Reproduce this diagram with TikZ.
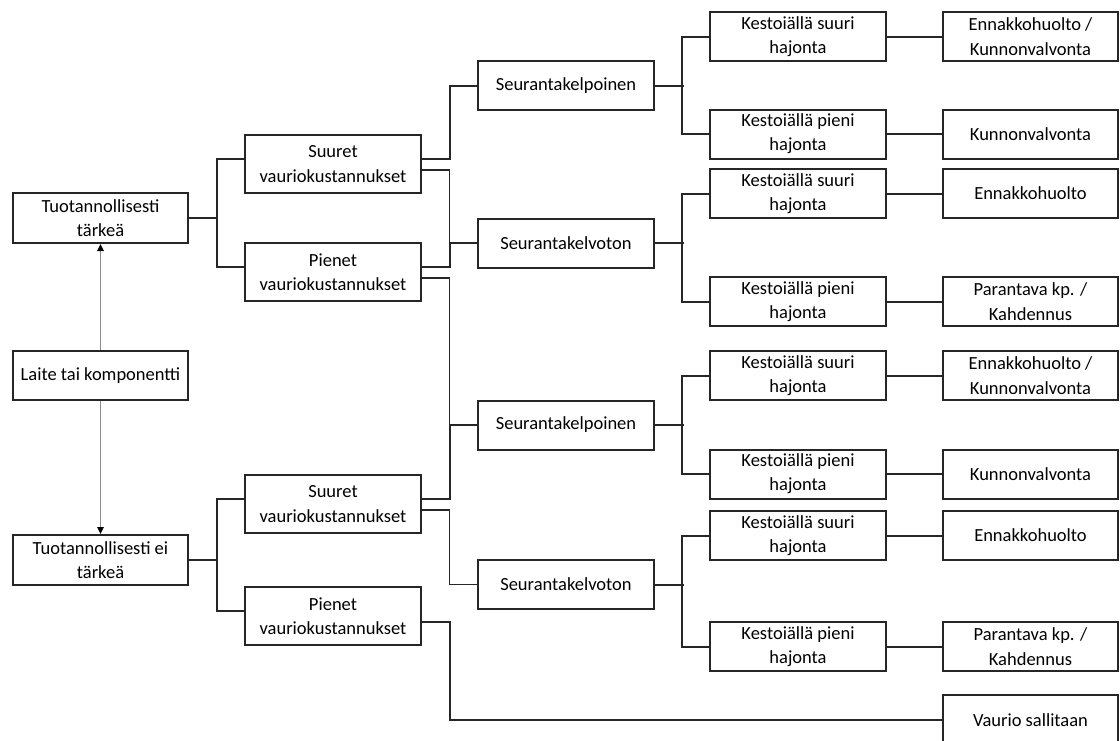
\documentclass[tikz,border=0pt]{standalone}
\usepackage{fontspec}
\setmainfont{Carlito}
\usetikzlibrary{arrows.meta,calc}

\begin{document}
\begin{tikzpicture}[x=1pt,y=-1pt,
  box/.style={draw=black!85, line width=2pt, rectangle, align=center,
    inner sep=0pt, minimum width=176pt, minimum height=49pt,
    font=\fontsize{18.5}{24.3}\selectfont},
  tallbox/.style={box, minimum height=58pt},
  link/.style={draw=black!85, line width=2pt},
  thinlink/.style={draw=black!85, line width=1.4pt},
  pointer/.style={draw=black!45, line width=1.2pt,
    -{Triangle[length=7pt,width=6.5pt,black]}}]

% page frame
\useasboundingbox (0,0) rectangle (1120,740);
\fill[white] (0,0) rectangle (1120,740);
\clip (0,0) rectangle (1120,740);

% first column
\node[box, minimum width=175pt, minimum height=50pt] (t1) at (100.5,218) {Tuotannollisesti\\tärkeä};
\node[box, minimum width=175pt] (lt) at (100.5,375.5) {Laite tai komponentti};
\node[box, minimum width=175pt, minimum height=50pt] (t2) at (100.5,560) {Tuotannollisesti ei\\tärkeä};

% damage cost level
\node[tallbox] (s1) at (333,164) {Suuret\\vauriokustannukset};
\node[tallbox] (p1) at (333,272) {Pienet\\vauriokustannukset};
\node[tallbox] (s2) at (333,504) {Suuret\\vauriokustannukset};
\node[tallbox] (p2) at (333,616) {Pienet\\vauriokustannukset};

% monitorability
\node[box] (k1) at (566,85.5) {Seurantakelpoinen};
\node[box] (v1) at (566,243) {Seurantakelvoton};
\node[box] (k2) at (566,425) {Seurantakelpoinen};
\node[box] (v2) at (566,584.5) {Seurantakelvoton};

% spread of lifetimes
\node[box] (h1) at (798,36.5) {Kestoiällä suuri\\hajonta};
\node[box] (h2) at (798,134) {Kestoiällä pieni\\hajonta};
\node[box] (h3) at (798,193.5) {Kestoiällä suuri\\hajonta};
\node[box] (h4) at (798,301.5) {Kestoiällä pieni\\hajonta};
\node[box] (h5) at (798,375.5) {Kestoiällä suuri\\hajonta};
\node[box] (h6) at (798,474) {Kestoiällä pieni\\hajonta};
\node[box] (h7) at (798,535.5) {Kestoiällä suuri\\hajonta};
\node[box] (h8) at (798,646.5) {Kestoiällä pieni\\hajonta};

% maintenance strategy
\node[box, minimum width=175pt] (e1) at (1030.5,36.5) {Ennakkohuolto /\\Kunnonvalvonta};
\node[box, minimum width=175pt] (e2) at (1030.5,134) {Kunnonvalvonta};
\node[box, minimum width=175pt] (e3) at (1030.5,193.5) {Ennakkohuolto};
\node[box, minimum width=175pt] (e4) at (1030.5,301.5) {Parantava kp. /\\Kahdennus};
\node[box, minimum width=175pt] (e5) at (1030.5,375.5) {Ennakkohuolto /\\Kunnonvalvonta};
\node[box, minimum width=175pt] (e6) at (1030.5,474) {Kunnonvalvonta};
\node[box, minimum width=175pt] (e7) at (1030.5,535.5) {Ennakkohuolto};
\node[box, minimum width=175pt] (e8) at (1030.5,646.5) {Parantava kp. /\\Kahdennus};
\node[box, minimum width=175pt, minimum height=50pt] (e9) at (1030.5,720) {Vaurio sallitaan};

% bus lines
\coordinate (X1) at (216.5,0);
\coordinate (X2) at (449.5,0);
\coordinate (X3) at (682,0);

% attachment points on the damage cost boxes
\foreach \n in {s1,p1,s2,p2}{
  \coordinate (\n l) at ($(\n.west)+(0,-5)$);
  \coordinate (\n a) at ($(\n.east)+(0,-5)$);
  \coordinate (\n b) at ($(\n.east)+(0,6)$);
}

% arrows from the device box
\draw[pointer] (lt.north) -- (t1.south);
\draw[pointer] (lt.south) -- (t2.north);

% importance -> damage cost
\draw[link] (t1.east) -- (t1.east -| X1);
\draw[link] (s1l) -- (s1l -| X1) -- (p1l -| X1) -- (p1l);
\draw[link] (t2.east) -- (t2.east -| X1);
\draw[link] (s2l) -- (s2l -| X1) -- (p2l -| X1) -- (p2l);

% damage cost -> monitorability
\draw[link] (s1a) -- (s1a -| X2) |- (k1.west);
\draw[thinlink] (s1b) -- (s1b -| X2) |- (v1.west);
\draw[link] (p1a) -- (p1a -| X2) |- (v1.west);
\draw[thinlink] (p1b) -- (p1b -| X2) |- (k2.west);
\draw[link] (s2a) -- (s2a -| X2) |- (k2.west);
\draw[thinlink] (s2b) -- (s2b -| X2) |- (v2.west);
\draw[link] (p2b) -- (p2b -| X2) |- (e9.west);

% monitorability -> spread of lifetimes
\foreach \m/\u/\d in {k1/h1/h2, v1/h3/h4, k2/h5/h6, v2/h7/h8}{
  \draw[link] (\m.east) -- ($(\m.east -| X3)+(2,0)$);
  \draw[link] (\u.west) -- (\u.west -| X3) -- (\d.west -| X3) -- (\d.west);
}

% spread of lifetimes -> strategy
\foreach \h/\e in {h1/e1, h3/e3, h4/e4, h5/e5, h7/e7, h8/e8}{
  \draw[link] (\h.east) -- (\e.west);
}
\foreach \h/\e in {h2/e2, h6/e6}{
  \draw[thinlink] (\h.east) -- (\e.west);
}
\end{tikzpicture}
\end{document}
